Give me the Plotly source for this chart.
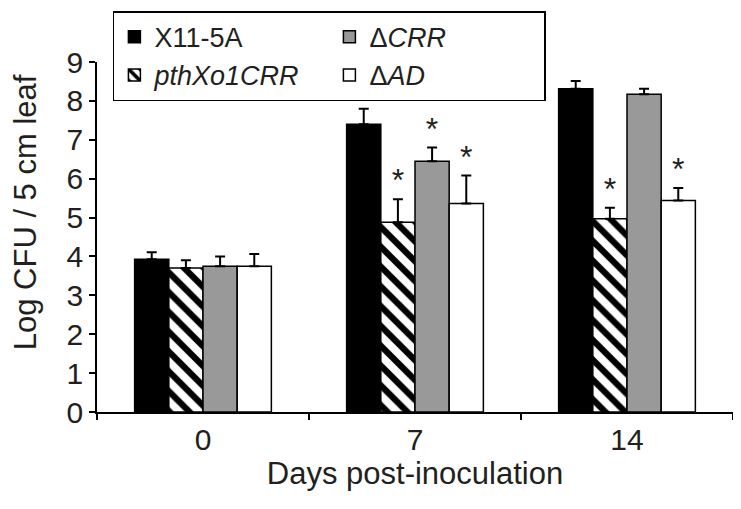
import plotly.graph_objects as go

days = ["0", "7", "14"]

strains = ["X11-5A", "<i>pthXo1CRR</i>", "Δ<i>CRR</i>", "Δ<i>AD</i>"]
log_cfu = {
    "X11-5A": [3.93, 7.40, 8.31],
    "<i>pthXo1CRR</i>": [3.70, 4.88, 4.97],
    "Δ<i>CRR</i>": [3.75, 6.45, 8.17],
    "Δ<i>AD</i>": [3.75, 5.36, 5.44],
}
sd = {
    "X11-5A": [0.18, 0.40, 0.20],
    "<i>pthXo1CRR</i>": [0.20, 0.59, 0.28],
    "Δ<i>CRR</i>": [0.25, 0.35, 0.14],
    "Δ<i>AD</i>": [0.31, 0.72, 0.32],
}
signif = {
    "X11-5A": ["", "", ""],
    "<i>pthXo1CRR</i>": ["", "*", "*"],
    "Δ<i>CRR</i>": ["", "*", ""],
    "Δ<i>AD</i>": ["", "*", "*"],
}

ink = "#231f20"
fills = {
    "X11-5A": dict(color="#000000"),
    "<i>pthXo1CRR</i>": dict(color="#ffffff",
                             pattern=dict(shape="\\", fgcolor="#000000", bgcolor="#ffffff",
                                          size=14, solidity=0.45, fillmode="replace")),
    "Δ<i>CRR</i>": dict(color="#999999"),
    "Δ<i>AD</i>": dict(color="#ffffff"),
}
# legend reads row-wise: X11-5A, ΔCRR / pthXo1CRR, ΔAD
ranks = {"X11-5A": 1, "Δ<i>CRR</i>": 2, "<i>pthXo1CRR</i>": 3, "Δ<i>AD</i>": 4}

fig = go.Figure()
for s in strains:
    fig.add_trace(go.Bar(
        x=days, y=log_cfu[s], name=s, offsetgroup=s, legendrank=ranks[s],
        marker=dict(**fills[s], line=dict(color="#000000", width=1.5)),
        error_y=dict(type="data", array=sd[s], arrayminus=[0] * len(days), symmetric=False,
                     color="#000000", thickness=2, width=5),
    ))
# significance stars sit on top of the error bars
for s in strains:
    fig.add_trace(go.Scatter(
        x=days, y=[v + e for v, e in zip(log_cfu[s], sd[s])], text=signif[s],
        mode="text", textposition="top center", offsetgroup=s, showlegend=False,
        textfont=dict(size=32, color=ink), hoverinfo="skip",
    ))

# page is drawn with an 8px body offset, margins compensate for it
fig.update_layout(
    width=741, height=509,
    margin=dict(l=89, r=16, t=54, b=105, autoexpand=False),
    plot_bgcolor="white", paper_bgcolor="white",
    font=dict(family="Arial, Liberation Sans, sans-serif", size=30, color=ink),
    barmode="group", bargap=0.355, bargroupgap=0,
    scattermode="group", scattergap=0.355,
    showlegend=True,
    legend=dict(orientation="h", x=0.025, y=1.145, xanchor="left", yanchor="top",
                bordercolor="#000000", borderwidth=1.5, bgcolor="white",
                font=dict(size=27, color=ink), entrywidth=170, itemwidth=30,
                traceorder="normal"),
    annotations=[
        dict(text="Log CFU / 5 cm leaf", xref="paper", yref="paper", x=-0.113, y=0.571,
             xanchor="center", yanchor="middle",
             textangle=-90, showarrow=False, font=dict(size=31, color=ink)),
    ],
)
fig.update_xaxes(
    type="category", showline=True, linecolor="#000000", linewidth=1.5,
    ticks="outside", tickson="boundaries", ticklen=6, tickcolor="#000000", tickwidth=1.5,
    title=dict(text="Days post-inoculation", font=dict(size=31), standoff=4),
    showgrid=False,
)
fig.update_yaxes(
    range=[0, 9], dtick=1, showline=True, linecolor="#000000", linewidth=1.5,
    ticks="outside", ticklen=6, tickcolor="#000000", tickwidth=1.5,
    showgrid=False, zeroline=False,
)

fig.write_html("out.html")
